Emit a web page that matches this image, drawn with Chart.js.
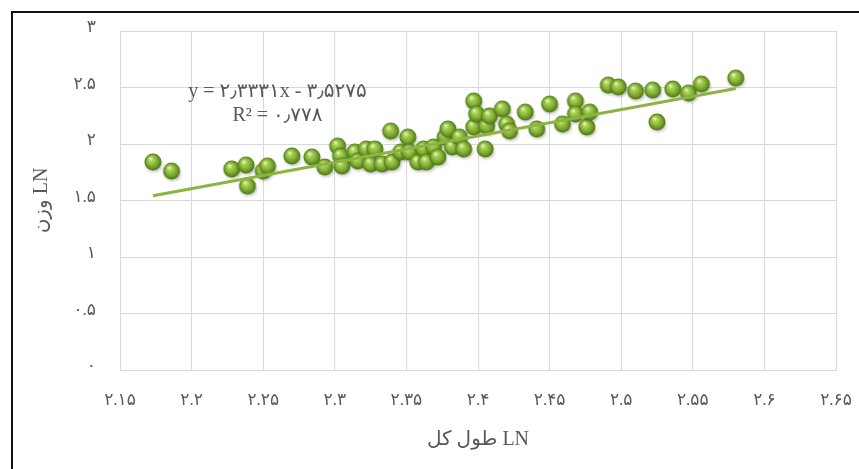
<!DOCTYPE html>
<html>
<head>
<meta charset="utf-8">
<script src="https://cdn.jsdelivr.net/npm/chart.js@4.4.1/dist/chart.umd.min.js"></script>
<style>
  body { margin: 0; background: #fff; overflow: hidden; }
  #frame {
    position: absolute; left: 11px; top: 11px;
    width: 1000px; height: 1000px;
    border: 2px solid #111;
  }
  #chart { position: absolute; left: 0; top: 0; }
</style>
</head>
<body>
<div id="frame"></div>
<canvas id="chart" width="859" height="469"></canvas>
<script>
// LN total length / LN weight samples
const ln_length = [
  2.173, 2.186, 2.228, 2.238, 2.239, 2.250, 2.253, 2.270, 2.284, 2.293,
  2.302, 2.304, 2.305, 2.314, 2.316, 2.322, 2.325, 2.328, 2.333, 2.339,
  2.340, 2.346, 2.351, 2.352, 2.358, 2.362, 2.364, 2.369, 2.372, 2.377,
  2.379, 2.382, 2.387, 2.390, 2.397, 2.397, 2.399, 2.405, 2.406, 2.408,
  2.417, 2.420, 2.422, 2.433, 2.441, 2.450, 2.459, 2.468, 2.468, 2.476,
  2.478, 2.491, 2.498, 2.510, 2.522, 2.525, 2.536, 2.547, 2.556, 2.580
];
const ln_weight = [
  1.832, 1.752, 1.770, 1.805, 1.619, 1.752, 1.796, 1.885, 1.876, 1.788,
  1.973, 1.885, 1.796, 1.920, 1.841, 1.947, 1.814, 1.947, 1.814, 2.106,
  1.832, 1.920, 2.053, 1.920, 1.832, 1.947, 1.832, 1.965, 1.876, 2.053,
  2.124, 1.965, 2.053, 1.947, 2.142, 2.372, 2.257, 1.947, 2.150, 2.239,
  2.301, 2.168, 2.106, 2.274, 2.124, 2.345, 2.168, 2.372, 2.257, 2.142,
  2.274, 2.513, 2.496, 2.460, 2.469, 2.186, 2.478, 2.442, 2.522, 2.575
];

// linear fit
const slope = 2.3331;
const intercept = -3.5275;
const r_squared = 0.778;

const x_ticks = [2.15, 2.2, 2.25, 2.3, 2.35, 2.4, 2.45, 2.5, 2.55, 2.6, 2.65];
const x_tick_labels = ['۲.۱۵', '۲.۲', '۲.۲۵', '۲.۳', '۲.۳۵', '۲.۴', '۲.۴۵', '۲.۵', '۲.۵۵', '۲.۶', '۲.۶۵'];
const y_ticks = [0, 0.5, 1, 1.5, 2, 2.5, 3];
const y_tick_labels = ['۰', '۰.۵', '۱', '۱.۵', '۲', '۲.۵', '۳'];

const x_title = 'طول کل LN';
const y_title = 'وزن LN';

const FONT = "'Liberation Serif', 'DejaVu Sans', serif";
const TEXT_COLOR = '#595959';
const GRID_COLOR = '#d9d9d9';

function to_fa(str) {
  const digits = '۰۱۲۳۴۵۶۷۸۹';
  return String(str).replace(/[0-9]/g, d => digits[+d]).replace(/\./g, '٫');
}

// shaded ball used as the point marker
function make_ball() {
  const c = document.createElement('canvas');
  c.width = 24;
  c.height = 24;
  const ctx = c.getContext('2d');
  const cx = 12, cy = 11, r = 8.5;

  ctx.save();
  ctx.filter = 'blur(1.5px)';
  ctx.fillStyle = 'rgba(60, 60, 60, 0.35)';
  ctx.beginPath();
  ctx.ellipse(cx + 1, cy + 3, r * 0.95, r * 0.8, 0, 0, Math.PI * 2);
  ctx.fill();
  ctx.restore();

  const g = ctx.createRadialGradient(cx - 2.5, cy - 3.5, 0.5, cx, cy, r);
  g.addColorStop(0, '#e4f4b8');
  g.addColorStop(0.25, '#a8d05a');
  g.addColorStop(0.65, '#7daa2e');
  g.addColorStop(1, '#4c7416');
  ctx.fillStyle = g;
  ctx.beginPath();
  ctx.arc(cx, cy, r, 0, Math.PI * 2);
  ctx.fill();
  return c;
}

let points = ln_length.map((x, i) => ({x: x, y: ln_weight[i]}));

let fit_x0 = Math.min.apply(null, ln_length);
let fit_x1 = Math.max.apply(null, ln_length);
let fit_line = [
  {x: fit_x0, y: slope * fit_x0 + intercept},
  {x: fit_x1, y: slope * fit_x1 + intercept}
];

let eq_text = 'y = ' + to_fa(slope) + 'x - ' + to_fa(-intercept);
let r2_text = 'R² = ' + to_fa(r_squared);

// equation box sits above the fit line, left part of the plot
const equation_plugin = {
  id: 'equation',
  afterDatasetsDraw(chart) {
    const ctx = chart.ctx;
    const xs = chart.scales.x;
    const ys = chart.scales.y;
    let px = xs.getPixelForValue(2.26);
    let py = ys.getPixelForValue(2.465);
    ctx.save();
    ctx.fillStyle = TEXT_COLOR;
    ctx.font = '20px ' + FONT;
    ctx.textAlign = 'center';
    ctx.textBaseline = 'middle';
    ctx.fillText(eq_text, px, py);
    ctx.fillText(r2_text, px, py + 24);
    ctx.restore();
  }
};

function set_ticks(values) {
  return scale => {
    scale.ticks = values.map(v => ({value: v}));
  };
}

new Chart(document.getElementById('chart'), {
  type: 'scatter',
  data: {
    datasets: [
      {
        data: fit_line,
        showLine: true,
        borderColor: '#8db443',
        borderWidth: 3,
        pointRadius: 0,
        order: 0
      },
      {
        data: points,
        pointStyle: make_ball(),
        order: 1
      }
    ]
  },
  options: {
    responsive: false,
    animation: false,
    events: [],
    layout: {
      padding: {top: 31, right: 23, left: 0, bottom: 0}
    },
    plugins: {
      legend: {display: false},
      tooltip: {enabled: false}
    },
    scales: {
      x: {
        type: 'linear',
        min: 2.15,
        max: 2.65,
        afterBuildTicks: set_ticks(x_ticks),
        afterFit: s => {
          s.height = 99;
          s.paddingLeft = 0;
          s.paddingRight = 0;
        },
        grid: {color: GRID_COLOR, drawTicks: false},
        border: {color: GRID_COLOR},
        ticks: {
          padding: 20,
          color: TEXT_COLOR,
          font: {family: FONT, size: 17},
          maxRotation: 0,
          callback: (v, i) => x_tick_labels[i]
        },
        title: {
          display: true,
          text: x_title,
          color: TEXT_COLOR,
          font: {family: FONT, size: 20},
          padding: {top: 0, bottom: 17}
        }
      },
      y: {
        type: 'linear',
        min: 0,
        max: 3,
        afterBuildTicks: set_ticks(y_ticks),
        afterFit: s => {
          s.width = 120;
          s.paddingTop = 0;
          s.paddingBottom = 0;
        },
        grid: {color: GRID_COLOR, drawTicks: false},
        border: {color: GRID_COLOR},
        ticks: {
          padding: 24,
          labelOffset: -3,
          color: TEXT_COLOR,
          font: {family: FONT, size: 17},
          callback: (v, i) => y_tick_labels[i]
        },
        title: {
          display: true,
          text: y_title,
          color: TEXT_COLOR,
          font: {family: FONT, size: 20},
          padding: {top: 30, bottom: 0}
        }
      }
    }
  },
  plugins: [equation_plugin]
});
</script>
</body>
</html>
